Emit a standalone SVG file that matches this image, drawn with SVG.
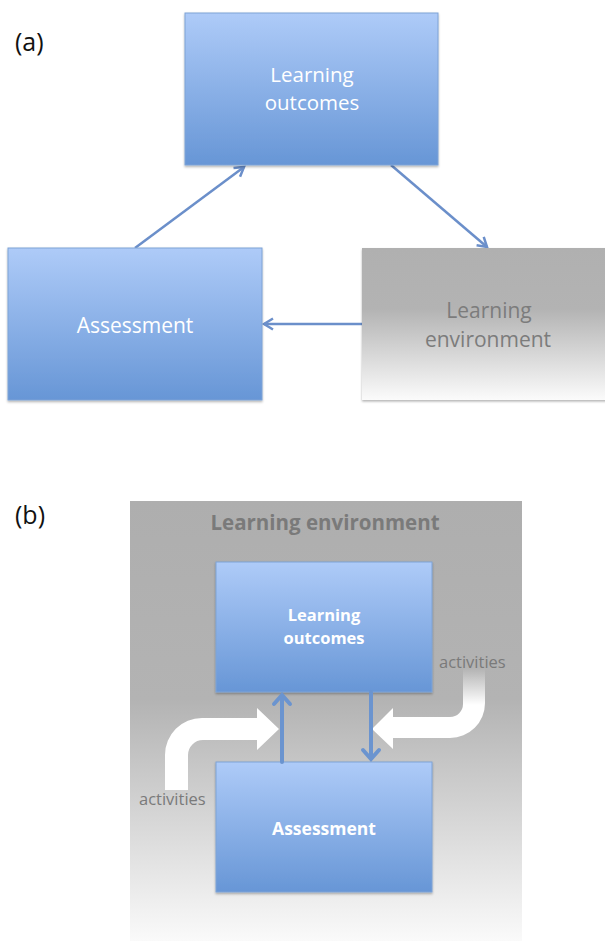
<svg xmlns="http://www.w3.org/2000/svg" width="605" height="941" viewBox="0 0 605 941">
<style>
.lbl{font-family:"Open Sans","DejaVu Sans",sans-serif;fill:#111;font-size:25px}
.bt{font-family:"Open Sans","DejaVu Sans",sans-serif;fill:#fff;font-size:21px;text-anchor:middle}
.bt2{font-family:"Open Sans","DejaVu Sans",sans-serif;fill:#fff;font-size:20.5px;text-anchor:middle}
.gt{font-family:"Open Sans","DejaVu Sans",sans-serif;fill:#7c7c7c;font-size:21px;text-anchor:middle}
.bb{font-family:"Open Sans","DejaVu Sans",sans-serif;fill:#fff;font-size:16.5px;font-weight:bold;text-anchor:middle}
.act{font-family:"Open Sans","DejaVu Sans",sans-serif;fill:#7a7a7a;font-size:16.5px}
.box{fill:url(#blue);stroke:#7fa3d6;stroke-width:1;filter:url(#sh)}
.con{stroke:#6b8fca;stroke-width:2.5;fill:none}
.vcon{stroke:#6b94cf;stroke-width:4;fill:none;stroke-linecap:round}
</style>
<defs>
<linearGradient id="blue" x1="0" y1="0" x2="0" y2="1">
<stop offset="0" stop-color="#aecbf8"/>
<stop offset="1" stop-color="#6796d6"/>
</linearGradient>
<linearGradient id="grayA" x1="0" y1="0" x2="0" y2="1">
<stop offset="0" stop-color="#b0b0b0"/>
<stop offset="0.4" stop-color="#b3b3b3"/>
<stop offset="1" stop-color="#fbfbfb"/>
</linearGradient>
<linearGradient id="grayB" x1="0" y1="0" x2="0" y2="1">
<stop offset="0" stop-color="#aeaeae"/>
<stop offset="0.45" stop-color="#b3b3b3"/>
<stop offset="1" stop-color="#fafafa"/>
</linearGradient>
<linearGradient id="fade" gradientUnits="userSpaceOnUse" x1="0" y1="668" x2="0" y2="705">
<stop offset="0" stop-color="#fff" stop-opacity="0"/>
<stop offset="1" stop-color="#fff" stop-opacity="1"/>
</linearGradient>
<filter id="sh" x="-5%" y="-5%" width="110%" height="115%">
<feDropShadow dx="0" dy="1.5" stdDeviation="1.2" flood-color="#000" flood-opacity="0.3"/>
</filter>
<marker id="ah" markerUnits="userSpaceOnUse" markerWidth="14" markerHeight="14" refX="11" refY="7" orient="auto">
<path d="M2,1.5 L11,7 L2,12.5" fill="none" stroke="#6b8fca" stroke-width="2.5"/>
</marker>
</defs>

<text class="lbl" x="15" y="51">(a)</text>
<text class="lbl" x="15" y="524">(b)</text>

<g id="a-connectors">
<line class="con" x1="135" y1="248" x2="244" y2="167" marker-end="url(#ah)"/>
<line class="con" x1="391" y1="165" x2="487" y2="247" marker-end="url(#ah)"/>
<line class="con" x1="362" y1="324" x2="264" y2="324" marker-end="url(#ah)"/>
</g>

<g id="a-learning-outcomes">
<rect class="box" x="185" y="13" width="253" height="152"/>
<text class="bt2" x="312" y="82">Learning</text>
<text class="bt2" x="312" y="110">outcomes</text>
</g>
<g id="a-assessment">
<rect class="box" x="8" y="248" width="254" height="152"/>
<text class="bt" x="135" y="333">Assessment</text>
</g>
<g id="a-learning-environment">
<rect x="362" y="248" width="245" height="152" fill="url(#grayA)" filter="url(#sh)"/>
<text class="gt" x="489" y="318">Learning</text>
<text class="gt" x="488" y="347">environment</text>
</g>

<g id="b-learning-environment">
<rect x="130" y="501" width="392" height="440" fill="url(#grayB)"/>
<text x="325" y="530" text-anchor="middle" style="font-family:'Open Sans','DejaVu Sans',sans-serif;font-size:20.5px;font-weight:bold;fill:#7a7a7a">Learning environment</text>
</g>

<g id="b-activities-left">
<path d="M165,790 L165,755 A37,37 0 0 1 202,718 L257,718 L257,708 L279,729 L257,750 L257,740 L203,740 A15,15 0 0 0 188,755 L188,790 Z" fill="#fff"/>
<text class="act" x="139" y="805">activities</text>
</g>
<g id="b-activities-right">
<path d="M463,668 L463,704 A13,13 0 0 1 450,717 L393,717 L393,708 L372,729 L393,749 L393,738 L450,738 A35,35 0 0 0 485,703 L485,668 Z" fill="url(#fade)"/>
<text class="act" x="439" y="668">activities</text>
</g>

<g id="b-learning-outcomes">
<rect class="box" x="216" y="562" width="216" height="130"/>
<text class="bb" x="324" y="621">Learning</text>
<text class="bb" x="324" y="644">outcomes</text>
</g>
<g id="b-assessment">
<rect class="box" x="216" y="762" width="216" height="130"/>
<text class="bb" x="324" y="835" style="font-size:17.5px">Assessment</text>
</g>

<g id="b-connectors">
<path class="vcon" d="M282,762 L282,695 M274,704 L282,695 L290,704"/>
<path class="vcon" d="M371,692 L371,759 M363,750 L371,759 L379,750"/>
</g>
</svg>
